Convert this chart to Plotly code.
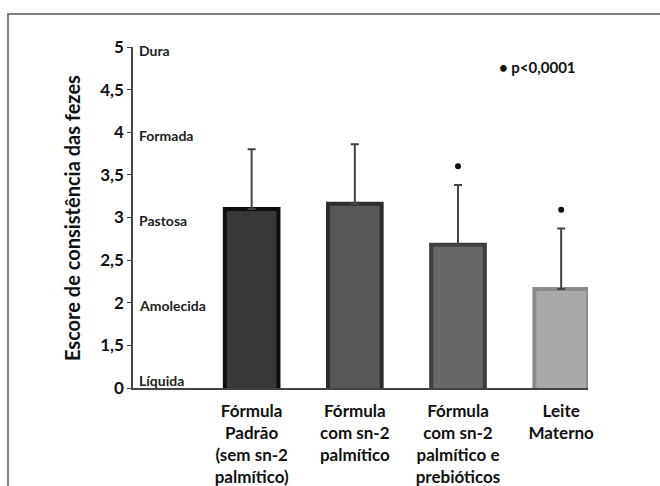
import plotly.graph_objects as go

categories = ["Fórmula<br>Padrão<br>(sem sn-2<br>palmítico)",
              "Fórmula<br>com sn-2<br>palmítico",
              "Fórmula<br>com sn-2<br>palmítico e<br>prebióticos",
              "Leite<br>Materno"]
means = [3.10, 3.16, 2.68, 2.16]
sd_upper = [0.70, 0.70, 0.70, 0.71]
significant = [False, False, True, True]
fill_colors = ["#383838", "#585858", "#686868", "#a9a9a9"]
edge_colors = ["#0e0e0e", "#2e2e2e", "#3e3e3e", "#8a8a8a"]

y_tickvals = [1, 1.5, 2, 2.5, 3, 3.5, 4, 4.5, 5]
y_ticktext = ["0", "1,5", "2", "2,5", "3", "3,5", "4", "4,5", "5"]
consistency_vals = [5, 4, 3, 2, 1]
consistency_text = ["Dura", "Formada", "Pastosa", "Amolecida", "Líquida"]

FONT = "Lato"
xpos = list(range(len(categories)))

fig = go.Figure()
fig.add_trace(go.Bar(
    x=xpos, y=means,
    marker=dict(color=fill_colors, line=dict(color=edge_colors, width=4)),
    width=0.52,
    error_y=dict(type="data", symmetric=False, array=sd_upper,
                 arrayminus=[0]*len(means), color="#444444",
                 thickness=2, width=4),
    showlegend=False,
))

sig_x = [x for x, s in zip(xpos, significant) if s]
sig_y = [m + e + 0.22 for m, e, s in zip(means, sd_upper, significant) if s]
fig.add_trace(go.Scatter(x=sig_x, y=sig_y, mode="markers",
                         marker=dict(color="#111111", size=6),
                         showlegend=False, hoverinfo="skip"))

annotations = []
for v, t in zip(consistency_vals, consistency_text):
    annotations.append(dict(
        x=0, xref="paper", y=v, yref="y", text=t, showarrow=False,
        xanchor="left", yanchor="bottom" if v == 1 else "middle",
        xshift=4, yshift=-3 if v == 1 else -3,
        font=dict(family=FONT, size=14, color="#222222", weight="bold")))
annotations.append(dict(
    x=(497 - 133) / 455, xref="paper", y=1.0 - (67 - 47) / 341, yref="paper",
    text="• p<0,0001", showarrow=False, xanchor="left", yanchor="middle",
    font=dict(family=FONT, size=15, color="#111111", weight="bold")))
annotations.append(dict(
    x=(72 - 133) / 455, xref="paper", y=(388 - 218) / 341, yref="paper",
    text="Escore de consistência das fezes", showarrow=False, textangle=-90,
    xanchor="center", yanchor="middle",
    font=dict(family=FONT, size=20, color="#111111", weight="bold")))

fig.update_layout(
    width=660, height=486,
    margin=dict(l=133, r=72, t=47, b=98),
    paper_bgcolor="white", plot_bgcolor="white",
    bargap=0.49,
    font=dict(family=FONT, color="#111111"),
    annotations=annotations,
    shapes=[dict(type="rect", xref="paper", yref="paper",
                 x0=-125/455, y0=-(486 - 388 + 20) / 341 - 0.2,
                 x1=(660 - 133 + 20) / 455, y1=1 + 33/341,
                 line=dict(color="#555555", width=1.5), layer="below")],
    xaxis=dict(range=[-1.15, 3.26], tickvals=xpos, ticktext=categories,
               showline=True, linecolor="#444444", linewidth=1.5,
               ticks="", showgrid=False, zeroline=False, automargin=False,
               ticklabelstandoff=7,
               tickfont=dict(family=FONT, size=17, color="#111111", weight="bold")),
    yaxis=dict(range=[1, 5], tickvals=y_tickvals, ticktext=y_ticktext,
               showline=True, linecolor="#444444", linewidth=1.5,
               ticks="outside", ticklen=4, tickcolor="#444444",
               showgrid=False, zeroline=False, automargin=False,
               tickfont=dict(family=FONT, size=17, color="#111111", weight="bold")),
)

fig.write_html("out.html")
